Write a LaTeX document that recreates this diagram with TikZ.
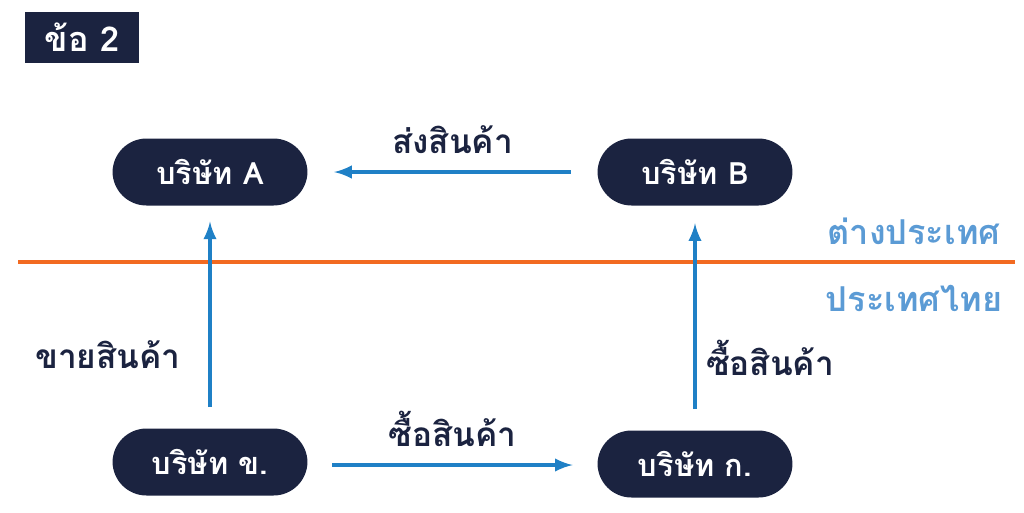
\documentclass[tikz,border=0pt]{standalone}
\usepackage{fontspec}
\newfontfamily\thaifont[Script=Thai]{Loma}
\usetikzlibrary{positioning}
\definecolor{navy}{HTML}{1B2340}
\definecolor{flowblue}{HTML}{1F80C6}
\definecolor{lineorange}{HTML}{F26A21}
\definecolor{zoneblue}{HTML}{5B9BD5}
\begin{document}
\begin{tikzpicture}[x=0.02cm,y=-0.02cm,font=\thaifont\bfseries\fontsize{19}{22}\selectfont,text=navy]
  \tikzset{company/.style={rounded corners=0.68cm,fill=navy,text=white,minimum width=3.9cm,minimum height=1.34cm,font=\thaifont\bfseries\fontsize{17.5}{20}\selectfont},
           flow/.style={->,>=latex,line width=2.4pt,draw=flowblue},
           zone/.style={text=zoneblue,font=\thaifont\bfseries\fontsize{19.5}{22}\selectfont}}
  \useasboundingbox (0,0) rectangle (1024,512);

    \node[fill=navy,text=white,minimum width=2.3cm,minimum height=1.02cm,font=\thaifont\bfseries\fontsize{19.5}{22}\selectfont] (title) at (82,37) {ข้อ 2};

    \node[company] (coA) at (210,172) {บริษัท A};
    \node[company] (coB) at (695,172) {บริษัท B};
    \node[company] (coK) at (210,462) {บริษัท ข.};
    \node[company] (coG) at (695,464) {บริษัท ก.};

    \coordinate (lineL) at (18,262);
    \coordinate (lineR) at (1015,262);
    \draw[lineorange,line width=2.6pt] (lineL) -- (lineR);
    \node[zone] (abroad) at (914,231) {ต่างประเทศ};
    \node[zone] (home)   at (914,298) {ประเทศไทย};

    \draw[flow,shorten <=15pt,shorten >=15pt] (coB) -- node[above=6pt] (l1) {ส่งสินค้า} (coA);
    \draw[flow,shorten <=12pt,shorten >=9pt] (coK) -- (coA);
    \draw[flow,shorten <=14pt,shorten >=14pt] (coK.east |- 0,465) -- node[above=6pt] (l2) {ซื้อสินค้า} (coG.west |- 0,465);
    \draw[flow,shorten <=12pt,shorten >=10pt] (coG) -- (coB);
    \node (l3) at (108,355) {ขายสินค้า};
    \node (l4) at (770,358) {ซื้อสินค้า};
\end{tikzpicture}
\end{document}
